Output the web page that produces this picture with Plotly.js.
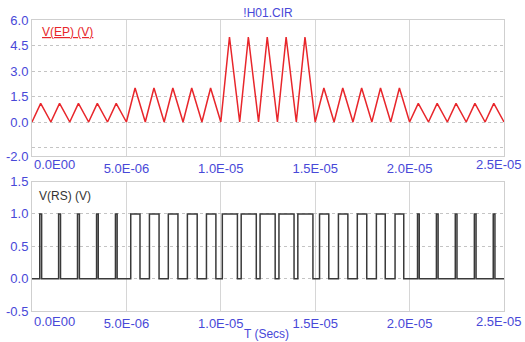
<!DOCTYPE html>
<html>
<head>
<meta charset="utf-8">
<script src="https://cdn.plot.ly/plotly-3.0.1.min.js"></script>
<style>html,body{margin:0;padding:0;background:#fff;}#chart{width:525px;height:342px;}</style>
</head>
<body>
<div id="chart"></div>
<script>
// ---- Data (times in microseconds) ----
// V(EP): triangle vertices
var epTimesUs = [0,0.46,1,1.46,2,2.46,3,3.46,4,4.46,5,
  5.46,6,6.46,7,7.46,8,8.46,9,9.46,10,
  10.46,11,11.46,12,12.46,13,13.46,14,14.46,15,
  15.46,16,16.46,17,17.46,18,18.46,19,19.46,20,
  20.46,21,21.46,22,22.46,23,23.46,24,24.46,25];
var epVolts = [0,1.1,0,1.1,0,1.1,0,1.1,0,1.1,0,
  2.0,0,2.0,0,2.0,0,2.0,0,2.0,0,
  5.0,0,5.0,0,5.0,0,5.0,0,5.0,0,
  2.0,0,2.0,0,2.0,0,2.0,0,2.0,0,
  1.1,0,1.1,0,1.1,0,1.1,0,1.1,0];
// V(RS): pulse rising / falling edge times
var rsRiseUs = [0.41,1.41,2.41,3.42,4.42,
  5.23,6.22,7.22,8.23,9.24,
  10.08,11.08,12.08,13.08,14.08,
  15.23,16.23,17.23,18.24,19.23,
  20.42,21.42,22.42,23.43,24.43];
var rsFallUs = [0.51,1.51,2.51,3.51,4.51,
  5.72,6.73,7.73,8.75,9.74,
  10.88,11.88,12.88,13.88,14.88,
  15.72,16.73,17.73,18.71,19.69,
  20.51,21.51,22.51,23.52,24.52];
var tEndUs = 25;

var xTickVals = [0,5e-6,1e-5,1.5e-5,2e-5,2.5e-5];
var xTickText = ['0.0E00','5.0E-06','1.0E-05','1.5E-05','2.0E-05','2.5E-05'];
var yTopTickVals = [-2,-1.5,0,1.5,3,4.5,6];
var yTopTickText = ['-2.0','','0.0','1.5','3.0','4.5','6.0'];
var yBotTickVals = [-0.5,0,0.5,1,1.5];
var yBotTickText = ['-0.5','0.0','0.5','1.0','1.5'];

// ---- Build traces ----
var epX = epTimesUs.map(function(t){return t*1e-6;});
var rsX = [0], rsY = [0];
for (var i=0;i<rsRiseUs.length;i++){
  rsX.push(rsRiseUs[i]*1e-6); rsY.push(1);
  rsX.push(rsFallUs[i]*1e-6); rsY.push(0);
}
rsX.push(tEndUs*1e-6); rsY.push(0);

var blue = '#4848d8';
var fam = 'Liberation Sans, Arial, sans-serif';
var tickFont = {family:fam, size:13, color:blue};

var traces = [
  {x:epX, y:epVolts, type:'scatter', mode:'lines', line:{color:'#e8262b', width:1.5}, xaxis:'x', yaxis:'y', hoverinfo:'skip'},
  {x:rsX, y:rsY, type:'scatter', mode:'lines', line:{color:'#3a3a3a', width:1.5, shape:'hv'}, xaxis:'x2', yaxis:'y2', hoverinfo:'skip'}
];

// interior tick labels drawn by the axis; the two end labels are placed as annotations
var innerText = xTickText.map(function(t,i){return (i===0||i===xTickText.length-1)?'':t;});

function xAxis(anchor){
  return {anchor:anchor, range:[-1e-12,2.5e-5+1e-12], tickvals:xTickVals, ticktext:innerText, tickfont:tickFont,
    showgrid:true, gridcolor:'#d6d6d6', gridwidth:1, zeroline:false, showline:true, mirror:true,
    linecolor:'#cfcfcf', linewidth:1, ticks:'', ticklabelstandoff:0, fixedrange:true};
}
function yAxis(anchor, domain, range, vals, text){
  return {anchor:anchor, domain:domain, range:range, tickvals:vals, ticktext:text, tickfont:tickFont,
    ticklabeloverflow:'allow',
    showgrid:true, gridcolor:'#c4c4c4', griddash:'dot', gridwidth:1, zeroline:false, showline:true, mirror:true,
    linecolor:'#cfcfcf', linewidth:1, ticks:'', fixedrange:true};
}

var annotations = [
  {text:'<u>V(EP) (V)</u>', xref:'paper', yref:'paper', x:0.017, y:0.9588, xanchor:'left', yanchor:'middle',
    showarrow:false, font:{family:fam, size:12, color:'#e8262b'}},
  {text:'V(RS) (V)', xref:'paper', yref:'paper', x:0.0106, y:0.395, xanchor:'left', yanchor:'middle',
    showarrow:false, font:{family:fam, size:12, color:'#333333'}},
  {text:'T (Secs)', xref:'paper', yref:'paper', x:0.496, y:-0.079, xanchor:'center', yanchor:'middle',
    showarrow:false, font:{family:fam, size:12, color:blue}}
];
[['x',0.503],['x2',-0.036]].forEach(function(p){
  annotations.push({text:xTickText[0], xref:p[0], yref:'paper', x:xTickVals[0], y:p[1], xanchor:'left', yanchor:'middle',
    showarrow:false, font:tickFont});
  annotations.push({text:xTickText[xTickText.length-1], xref:p[0], yref:'paper', x:xTickVals[xTickVals.length-1], y:p[1],
    xanchor:'right', xshift:20, yanchor:'middle', showarrow:false, font:tickFont});
});

var layout = {
  width:525, height:342,
  margin:{l:32, r:21, t:20, b:31, pad:0},
  paper_bgcolor:'#ffffff', plot_bgcolor:'#ffffff',
  showlegend:false,
  title:{text:'!H01.CIR', font:{family:fam, size:12, color:blue},
    x:0.5, xref:'paper', y:1-13/342, yref:'container', yanchor:'middle'},
  xaxis: xAxis('y'),
  yaxis: yAxis('x', [0.5326,1], [-2,6], yTopTickVals, yTopTickText),
  xaxis2: xAxis('y2'),
  yaxis2: yAxis('x2', [0,0.445], [-0.5,1.5], yBotTickVals, yBotTickText),
  annotations: annotations
};

Plotly.newPlot('chart', traces, layout, {staticPlot:true, displayModeBar:false});
</script>
</body>
</html>
